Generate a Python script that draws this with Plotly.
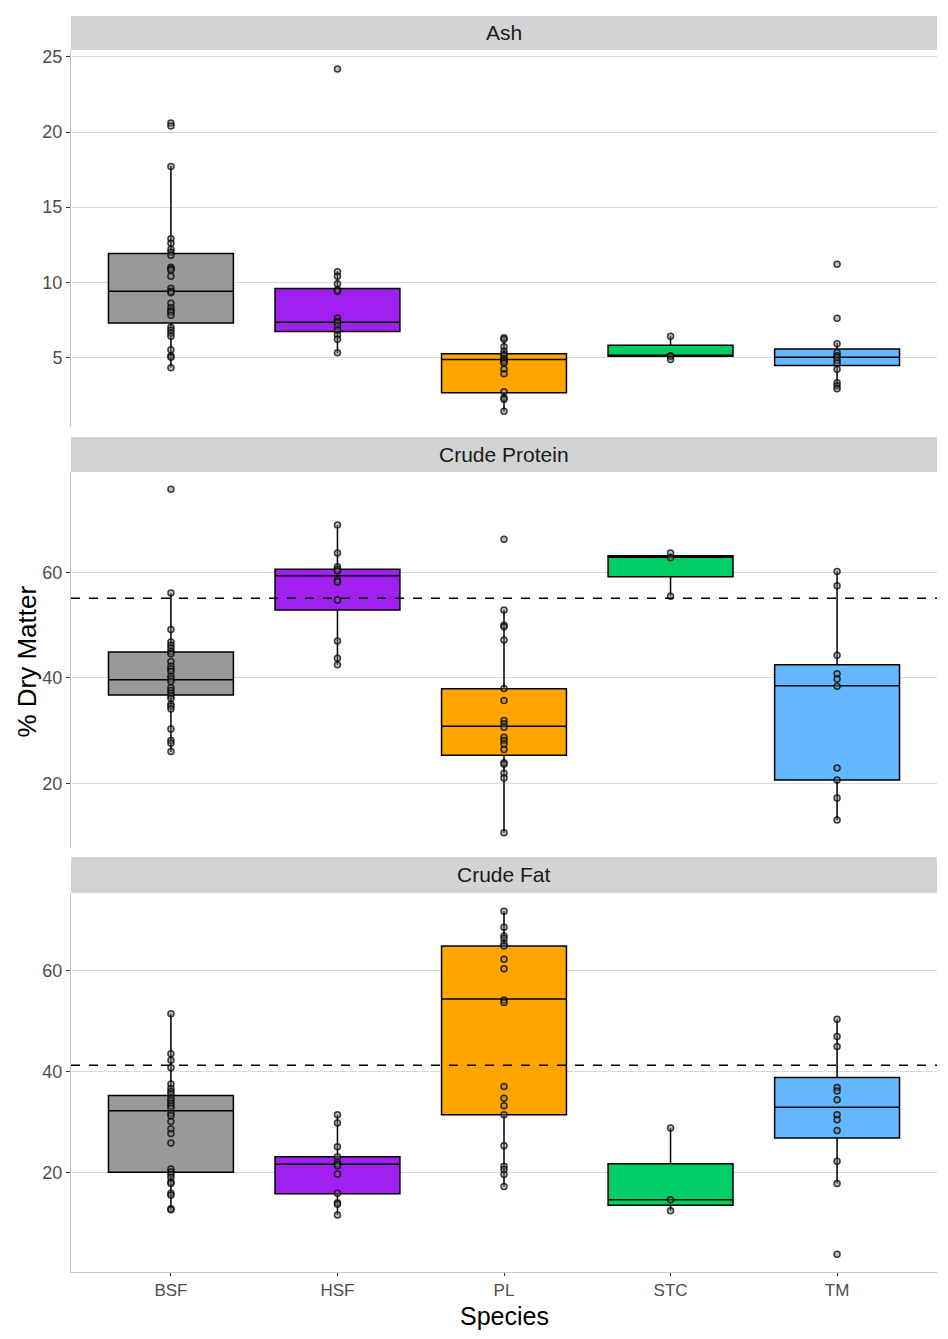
import plotly.graph_objects as go

species = ["BSF", "HSF", "PL", "STC", "TM"]
colors = ["#999999", "#A020F0", "#FFA500", "#00CD66", "#63B8FF"]
facets = ["Ash", "Crude Protein", "Crude Fat"]

# individual samples (% dry matter)
ash_points = {
    "BSF": [20.6, 20.4, 17.7, 12.9, 12.6, 12.2, 12.0, 11.8, 11.0, 10.9, 10.8, 10.4, 9.6, 9.4,
            9.3, 8.6, 8.3, 8.1, 8.0, 7.8, 7.0, 6.8, 6.6, 6.4, 5.5, 5.1, 5.0, 4.3],
    "HSF": [24.2, 10.7, 10.4, 9.9, 9.5, 9.4, 7.6, 7.4, 7.3, 7.1, 6.8, 6.5, 6.2, 5.3],
    "PL": [6.3, 6.2, 5.7, 5.4, 5.2, 5.1, 4.9, 4.8, 4.7, 4.6, 4.2, 3.9, 2.7, 2.3, 2.2, 1.4],
    "STC": [6.4, 5.1, 5.05, 4.85],
    "TM": [11.2, 7.6, 5.9, 5.3, 5.1, 5.0, 4.8, 4.6, 4.2, 3.3, 3.1, 2.9],
}
protein_points = {
    "BSF": [75.8, 56.1, 49.2, 46.8, 46.2, 45.6, 45.0, 44.6, 43.1, 42.2, 41.7, 41.2, 40.3, 39.8,
            39.3, 38.1, 37.6, 37.1, 36.6, 36.1, 35.0, 34.6, 34.1, 30.3, 28.1, 27.6, 26.0],
    "HSF": [69.0, 63.7, 61.1, 60.6, 60.3, 58.6, 58.2, 54.8, 47.0, 43.7, 42.5],
    "PL": [66.3, 52.9, 50.0, 49.7, 47.2, 38.0, 35.7, 31.9, 31.3, 30.6, 28.7, 28.1, 27.4, 26.4,
           23.9, 23.6, 21.9, 21.0, 10.6],
    "STC": [63.7, 62.8, 55.5],
    "TM": [60.2, 57.5, 44.3, 40.8, 39.8, 38.4, 22.9, 20.6, 17.2, 13.0],
}
fat_points = {
    "BSF": [51.4, 43.5, 42.2, 40.7, 37.5, 36.6, 36.0, 35.5, 34.7, 34.2, 33.7, 33.2, 32.7, 31.7,
            31.2, 30.1, 28.6, 27.7, 25.8, 20.7, 20.1, 19.6, 19.0, 18.1, 17.8, 15.9, 15.5, 12.8, 12.6],
    "HSF": [31.4, 29.8, 25.1, 23.1, 22.0, 21.6, 21.3, 19.7, 15.9, 14.0, 13.7, 11.6],
    "PL": [71.7, 68.5, 66.8, 66.3, 65.3, 64.8, 62.2, 60.3, 54.1, 53.6, 37.0, 34.7, 33.2, 31.4,
           25.3, 21.2, 20.6, 19.6, 17.2],
    "STC": [28.8, 14.6, 12.4],
    "TM": [50.3, 46.9, 44.9, 36.8, 36.1, 34.4, 31.4, 30.4, 28.3, 22.2, 17.8, 3.8],
}

# box stats per species: lower whisker, q1, median, q3, upper whisker
ash_box = {
    "BSF": [4.3, 7.28, 9.39, 11.91, 17.74],
    "HSF": [5.27, 6.71, 7.33, 9.58, 10.73],
    "PL": [1.39, 2.63, 4.85, 5.24, 6.33],
    "STC": [4.85, 5.07, 5.11, 5.8, 6.44],
    "TM": [2.9, 4.45, 5.0, 5.55, 5.95],
}
protein_box = {
    "BSF": [25.9, 36.75, 39.66, 44.9, 56.1],
    "HSF": [42.5, 52.9, 59.4, 60.6, 69.0],
    "PL": [10.6, 25.3, 30.8, 37.95, 52.9],
    "STC": [55.5, 59.2, 62.9, 63.2, 63.7],
    "TM": [13.0, 20.6, 38.5, 42.5, 60.2],
}
fat_box = {
    "BSF": [12.6, 20.05, 32.2, 35.2, 51.4],
    "HSF": [11.6, 15.8, 21.6, 23.1, 31.4],
    "PL": [17.2, 31.4, 54.3, 64.8, 71.7],
    "STC": [12.4, 13.5, 14.6, 21.7, 28.8],
    "TM": [17.8, 26.8, 32.9, 38.8, 50.3],
}

# reference (dashed) lines; Ash has none
ref_lines = [None, 55.1, 41.2]

y_ranges = [[0.35, 25.47], [7.7, 79.1], [0.3, 75.3]]
y_ticks = [[5, 10, 15, 20, 25], [20, 40, 60], [20, 40, 60]]

# panel / strip domains (paper coords, bottom = 0)
panel_dom = [[0.6727, 0.9730], [0.3376, 0.6370], [0.0, 0.3018]]
strip_dom = [[0.9730, 1.0], [0.6370, 0.6648], [0.3018, 0.3304]]

FONT = "Liberation Sans, Arial, sans-serif"

fig = go.Figure()
all_points = [ash_points, protein_points, fat_points]
all_boxes = [ash_box, protein_box, fat_box]

for i in range(3):
    xa = "x" if i == 0 else f"x{i + 1}"
    ya = "y" if i == 0 else f"y{i + 1}"
    for sp, col in zip(species, colors):
        lo, q1, med, q3, hi = all_boxes[i][sp]
        fig.add_trace(go.Box(
            x=[sp], q1=[q1], median=[med], q3=[q3], lowerfence=[lo], upperfence=[hi],
            fillcolor=col, line=dict(color="black", width=1.5),
            whiskerwidth=0, width=0.75, boxpoints=False,
            xaxis=xa, yaxis=ya, showlegend=False, hoverinfo="skip",
        ))
    for sp in species:
        vals = all_points[i][sp]
        fig.add_trace(go.Scatter(
            x=[sp] * len(vals), y=vals, mode="markers",
            marker=dict(size=6, color="rgba(120,120,120,0.45)",
                        line=dict(color="rgba(0,0,0,0.75)", width=1.5)),
            xaxis=xa, yaxis=ya, showlegend=False, hoverinfo="skip",
        ))

# the page puts the figure 8px in from the top-left corner
layout = dict(
    width=940, height=1331,
    margin=dict(l=63, r=11, t=5, b=67),
    paper_bgcolor="white", plot_bgcolor="white",
    font=dict(family=FONT, color="#4D4D4D"),
    shapes=[], annotations=[],
)

for i in range(3):
    xk = "xaxis" if i == 0 else f"xaxis{i + 1}"
    yk = "yaxis" if i == 0 else f"yaxis{i + 1}"
    ya = "y" if i == 0 else f"y{i + 1}"
    xa = "x" if i == 0 else f"x{i + 1}"
    bottom = i == 2
    layout[xk] = dict(
        domain=[0, 1], anchor=ya, type="category",
        categoryorder="array", categoryarray=species,
        range=[-0.6, 4.6], showgrid=False, zeroline=False,
        showticklabels=bottom, ticks="outside" if bottom else "",
        ticklen=3, tickcolor="#333333", tickwidth=1,
        tickfont=dict(size=17, color="#4D4D4D", family=FONT),
        showline=bottom, linecolor="#C8C8C8", linewidth=1,
    )
    if i > 0:
        layout[xk]["matches"] = "x"
    layout[yk] = dict(
        domain=panel_dom[i], anchor=xa, range=y_ranges[i],
        tickvals=y_ticks[i], ticks="outside", ticklen=4,
        tickcolor="#333333", tickwidth=1,
        tickfont=dict(size=18, color="#4D4D4D", family=FONT),
        showgrid=True, gridcolor="#D9D9D9", gridwidth=1, zeroline=False,
        showline=True, linecolor="#C8C8C8", linewidth=1,
    )
    # facet strip
    layout["shapes"].append(dict(
        type="rect", xref="paper", yref="paper", x0=0, x1=1,
        y0=strip_dom[i][0], y1=strip_dom[i][1],
        fillcolor="#D3D3D3", line=dict(width=0), layer="below",
    ))
    layout["annotations"].append(dict(
        text=facets[i], xref="paper", yref="paper", x=0.5,
        y=(strip_dom[i][0] + strip_dom[i][1]) / 2, showarrow=False,
        xanchor="center", yanchor="middle",
        font=dict(size=21, color="#1A1A1A", family=FONT),
    ))
    if ref_lines[i] is not None:
        layout["shapes"].append(dict(
            type="line", xref=f"{xa} domain", yref=ya, x0=0, x1=1,
            y0=ref_lines[i], y1=ref_lines[i],
            line=dict(color="black", width=1.5, dash="dash"), layer="above",
        ))

layout["annotations"].append(dict(
    text="Species", xref="paper", yref="paper", x=0.5, y=-0.0352,
    showarrow=False, xanchor="center", yanchor="middle",
    font=dict(size=25, color="black", family=FONT),
))
layout["annotations"].append(dict(
    text="% Dry Matter", xref="paper", yref="paper", x=-0.0508, y=0.486,
    showarrow=False, xanchor="center", yanchor="middle", textangle=-90,
    font=dict(size=26, color="black", family=FONT),
))

fig.update_layout(**layout)
fig.write_html("out.html")
